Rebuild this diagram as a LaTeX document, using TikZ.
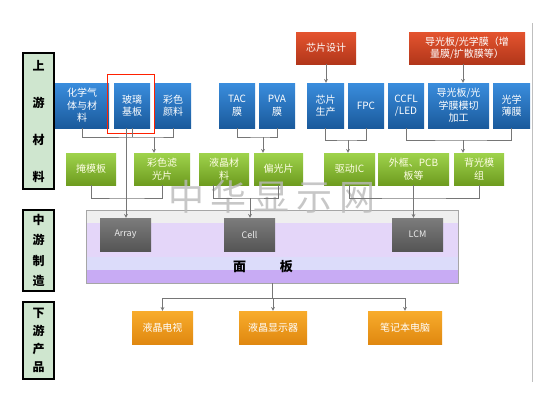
\documentclass[tikz,border=0pt]{standalone}
\usepackage{fontspec}
\setmainfont{Noto Sans CJK SC}
\definecolor{blueA}{HTML}{3A8DDD}
\definecolor{blueB}{HTML}{1A5A9C}
\definecolor{greenA}{HTML}{9FD34C}
\definecolor{greenB}{HTML}{6E9C1F}
\definecolor{redA}{HTML}{E4542F}
\definecolor{redB}{HTML}{B2361A}
\definecolor{orangeA}{HTML}{F8AC2C}
\definecolor{orangeB}{HTML}{E08810}
\definecolor{grayA}{HTML}{7C7C7C}
\definecolor{grayB}{HTML}{555555}
\definecolor{labfill}{HTML}{CFE6CF}
\definecolor{linegray}{HTML}{767676}
\definecolor{pnlTop}{HTML}{EFEFEF}
\definecolor{pnlMid}{HTML}{E4D6F9}
\definecolor{pnlLow}{HTML}{DCDCFA}
\definecolor{pnlBot}{HTML}{C8ABF4}

\begin{document}
\begin{tikzpicture}[x=1pt, y=-1pt,
		box/.style={inner sep=1pt, align=center, text=white, shading=axis, font=\fontsize{10}{12.5}\selectfont},
		bluebox/.style={box, top color=blueA, bottom color=blueB, minimum height=45pt},
		redbox/.style={box, top color=redA, bottom color=redB, minimum height=32pt},
		greenbox/.style={box, top color=greenA, bottom color=greenB, minimum height=32pt, text=white!90!yellow},
		graybox/.style={box, top color=grayA, bottom color=grayB, minimum width=51pt, minimum height=33pt, text=white!85!gray, font=\fontsize{9}{11}\selectfont},
		orangebox/.style={box, top color=orangeA, bottom color=orangeB, minimum height=33pt},
		labbox/.style={draw=black, line width=1.2pt, fill=labfill, minimum width=31pt, inner sep=0pt, align=center},
		conn/.style={draw=linegray, line width=0.7pt},
		flow/.style={conn, -stealth}]
		\useasboundingbox (0,0) rectangle (550,405);
		
		% left labels
		\node[labbox, minimum height=136pt, font=\bfseries\fontsize{12}{37}\selectfont] (symat) at (38.5,121) {上\\游\\材\\料};
		\node[labbox, minimum height=81pt, font=\bfseries\fontsize{12}{20.5}\selectfont] (zyzz) at (38.5,250.5) {中\\游\\制\\造};
		\node[labbox, minimum height=77pt, font=\bfseries\fontsize{12}{18}\selectfont] (xycp) at (38.5,340.5) {下\\游\\产\\品};
		
		% right border line
		\draw[gray!50, line width=0.8pt] (532,23) -- (532,382);
		
		% top red boxes
		\node[redbox, minimum width=60pt] (xpsj) at (326,48) {芯片设计};
		\node[redbox, minimum width=116pt] (dgbm) at (467,48) {导光板/光学膜（增\\量膜/扩散膜等）};
		
		% blue row
		\node[bluebox, minimum width=54pt] (hxqt) at (82,105.5) {化学气\\体与材\\料};
		\node[bluebox, minimum width=36pt] (bljb) at (132,105.5) {玻璃\\基板};
		\node[bluebox, minimum width=36pt] (csyl) at (173,105.5) {彩色\\颜料};
		\node[bluebox, minimum width=36pt] (tac) at (237,105.5) {TAC\\膜};
		\node[bluebox, minimum width=36pt] (pva) at (277,105.5) {PVA\\膜};
		\node[bluebox, minimum width=37pt] (xpsc) at (325.5,105.5) {芯片\\生产};
		\node[bluebox, minimum width=36pt] (fpc) at (366,105.5) {FPC};
		\node[bluebox, minimum width=36pt] (ccfl) at (406,105.5) {CCFL\\/LED};
		\node[bluebox, minimum width=61pt] (dgmq) at (458.5,105.5) {导光板/光\\学膜模切\\加工};
		\node[bluebox, minimum width=37pt] (gxbm) at (511.5,105.5) {光学\\薄膜};
		\draw[red!75!orange, line width=1pt] (107,74) rectangle (154,133);
		
		% green row
		\node[greenbox, minimum width=50pt] (ymb) at (91,169) {掩模板};
		\node[greenbox, minimum width=56pt] (cslg) at (162,169) {彩色滤\\光片};
		\node[greenbox, minimum width=50pt] (yjcl) at (224,169) {液晶材\\料};
		\node[greenbox, minimum width=49pt] (pgp) at (278.5,169) {偏光片};
		\node[greenbox, minimum width=51pt] (qdic) at (349.5,169) {驱动IC};
		\node[greenbox, minimum width=71pt] (wkpcb) at (413.5,169) {外框、PCB\\板等};
		\node[greenbox, minimum width=50pt] (bgmz) at (479,169) {背光模\\组};
		
		% panel
		\node[draw=gray!70, line width=0.8pt, minimum width=372pt, minimum height=73pt, inner sep=0pt,
			path picture={
				\fill[pnlTop] (path picture bounding box.north west) rectangle ([yshift=-13pt]path picture bounding box.north east);
				\fill[pnlMid] ([yshift=-13pt]path picture bounding box.north west) rectangle ([yshift=-47pt]path picture bounding box.north east);
				\fill[pnlLow] ([yshift=-47pt]path picture bounding box.north west) rectangle ([yshift=-60pt]path picture bounding box.north east);
				\fill[pnlBot] ([yshift=-60pt]path picture bounding box.north west) rectangle (path picture bounding box.south east);
			}] (mb) at (272,246.5) {};
		\node[font=\bfseries\fontsize{13}{13}\selectfont] (mbtxt) at (263,266.5) {面\hspace{34pt}板};
		
		% watermark
		\node[text=gray!55, opacity=0.8, font=\fontsize{36}{36}\selectfont] (wm) at (272,197) {中\hspace{7pt}华\hspace{7pt}显\hspace{7pt}示\hspace{7pt}网};
		
		\node[graybox] (arr) at (125.5,234.5) {Array};
		\node[graybox] (cell) at (249.5,234.5) {Cell};
		\node[graybox] (lcm) at (417.5,234.5) {LCM};
		
		% downstream
		\node[orangebox, minimum width=61pt] (yjds) at (162.5,327.5) {液晶电视};
		\node[orangebox, minimum width=68pt] (yjxsq) at (273,327.5) {液晶显示器};
		\node[orangebox, minimum width=74pt] (bjbdn) at (405,327.5) {笔记本电脑};
		
		% red -> blue
		\draw[flow] (xpsj.south) -- (xpsj.south |- xpsc.north);
		\draw[flow] ([xshift=-4pt]dgbm.south) -- ([xshift=-4pt]dgbm.south |- dgmq.north);
		
		% blue -> green
		\coordinate (b1) at (154,137);
		\coordinate (b2) at (263,137);
		\coordinate (b3) at (348,140);
		\coordinate (b4) at (463,140);
		\draw[conn] (hxqt.south) |- (b1) -| (csyl.south);
		\draw[conn] (bljb.south) -- (bljb.south |- b1);
		\draw[flow] (b1) -- (b1 |- cslg.north);
		\draw[conn] (tac.south) |- (b2) -| (pva.south);
		\draw[flow] (b2) -- (b2 |- pgp.north);
		\draw[conn] (xpsc.south) |- (b3) -| (fpc.south);
		\draw[flow] (b3) -- (b3 |- qdic.north);
		\draw[conn] (ccfl.south) |- (b4) -| (gxbm.south);
		\draw[flow] (b4) -- (b4 |- bgmz.north);
		
		% green -> panel
		\coordinate (c1) at (127,198);
		\coordinate (c2) at (250,198);
		\coordinate (c3) at (413.5,198);
		\draw[flow] ([xshift=-6pt]bljb.south) -- ([xshift=-6pt]bljb.south |- arr.north);
		\draw[conn] (ymb.south) |- (c1) -| (cslg.south);
		\draw[conn] ([xshift=-11pt]yjcl.south) |- (c2) -| (pgp.south);
		\draw[flow] (c2) -- (c2 |- cell.north);
		\draw[conn] (qdic.south) |- (c3) -| (bgmz.south);
		\draw[flow] (wkpcb.south) -- (wkpcb.south |- lcm.north);
		
		% panel -> products
		\coordinate (d1) at (273,298);
		\draw[conn] (mb.south) -- (mb.south |- d1);
		\draw[conn] (yjds.north |- d1) -- (bjbdn.north |- d1);
		\foreach \pn in {yjds, yjxsq, bjbdn}
			\draw[flow] (\pn.north |- d1) -- (\pn.north);
	\end{tikzpicture}
\end{document}
